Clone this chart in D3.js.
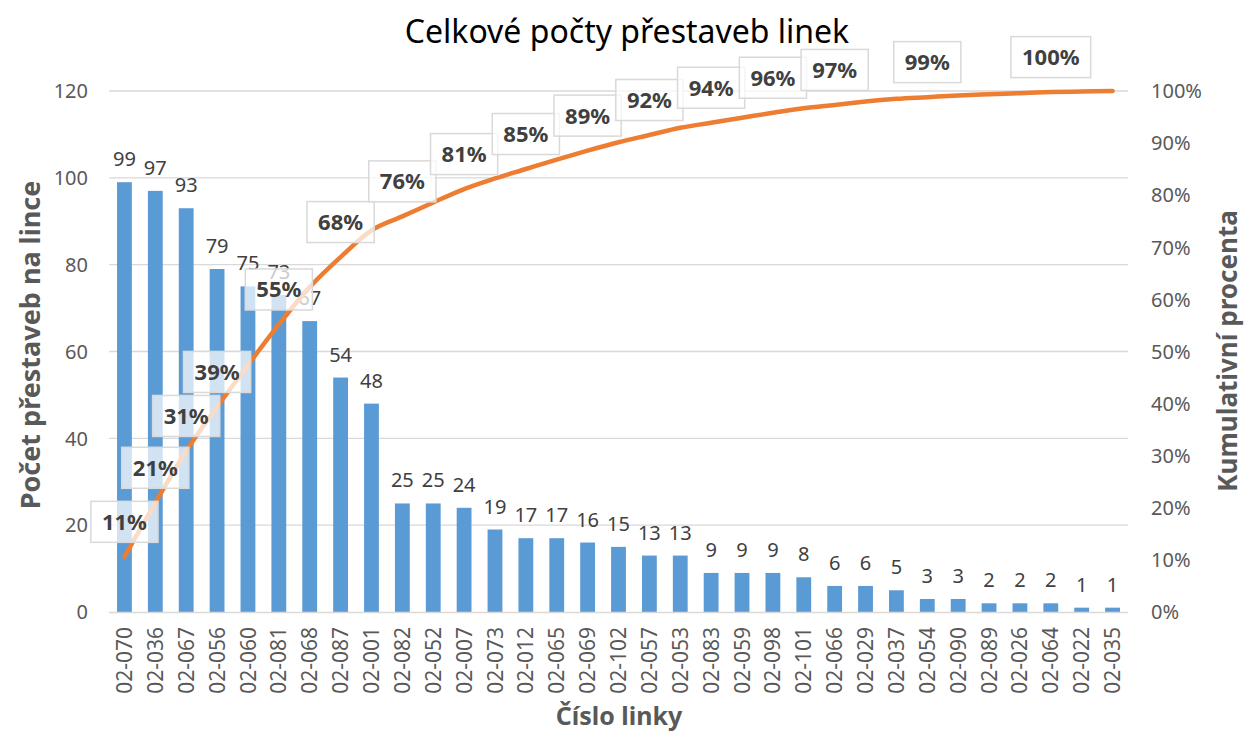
<!DOCTYPE html>
<html>
<head>
<meta charset="utf-8">
<script src="https://cdn.jsdelivr.net/npm/d3@7/dist/d3.min.js"></script>
<style>
  html, body { margin: 0; padding: 0; background: #fff; }
  svg { display: block; }
  text { font-family: "Noto Sans", "Open Sans", sans-serif; }
</style>
</head>
<body>
<svg id="chart" width="1247" height="732"></svg>
<script>
// Line numbers (sorted by count, descending)
const lines = ["02-070","02-036","02-067","02-056","02-060","02-081","02-068","02-087","02-001",
  "02-082","02-052","02-007","02-073","02-012","02-065","02-069","02-102","02-057","02-053",
  "02-083","02-059","02-098","02-101","02-066","02-029","02-037","02-054","02-090","02-089",
  "02-026","02-064","02-022","02-035"];
// Number of rebuilds per line
const counts = [99,97,93,79,75,73,67,54,48,25,25,24,19,17,17,16,15,13,13,9,9,9,8,6,6,5,3,3,2,2,2,1,1];
// Points of the cumulative curve that carry a percentage label
const labelledPoints = [0,1,2,3,5,7,9,11,13,15,17,19,21,23,26,30];
// Axis ticks
const leftTicks = [0,20,40,60,80,100,120];
const rightTicks = [0,0.1,0.2,0.3,0.4,0.5,0.6,0.7,0.8,0.9,1.0];

const title = "Celkové počty přestaveb linek";
const leftTitle = "Počet přestaveb na lince";
const rightTitle = "Kumulativní procenta";
const bottomTitle = "Číslo linky";

const total = d3.sum(counts);
const cumulative = d3.cumsum(counts).map(v => v / total);

const svg = d3.select("#chart");
const m = { left: 109, right: 1128, top: 91, bottom: 612 };

const x = d3.scaleBand().domain(lines).range([m.left, m.right]).paddingInner(0.52).paddingOuter(0.26);
const yL = d3.scaleLinear().domain([0, 120]).range([m.bottom, m.top]);
const yR = d3.scaleLinear().domain([0, 1]).range([m.bottom, m.top]);
const cx = d => x(d) + x.bandwidth() / 2;

// Horizontal gridlines
svg.append("g").selectAll("line").data(leftTicks.filter(t => t > 0)).join("line")
  .attr("x1", m.left).attr("x2", m.right)
  .attr("y1", d => yL(d)).attr("y2", d => yL(d))
  .attr("stroke", "#d9d9d9").attr("stroke-width", 1.3);

// Bars
svg.append("g").selectAll("rect").data(lines).join("rect")
  .attr("x", d => x(d)).attr("width", x.bandwidth())
  .attr("y", (d, i) => yL(counts[i]))
  .attr("height", (d, i) => yL(0) - yL(counts[i]))
  .attr("fill", "#5b9bd5");

// Category axis line
svg.append("line").attr("x1", m.left).attr("x2", m.right)
  .attr("y1", m.bottom + 0.5).attr("y2", m.bottom + 0.5)
  .attr("stroke", "#d9d9d9").attr("stroke-width", 1.5);

// Bar value labels
svg.append("g").selectAll("text").data(lines).join("text")
  .attr("x", d => cx(d)).attr("y", (d, i) => yL(counts[i]) - 16)
  .attr("text-anchor", "middle").attr("font-size", 20).attr("fill", "#404040")
  .text((d, i) => counts[i]);

// Left axis tick labels
svg.append("g").selectAll("text").data(leftTicks).join("text")
  .attr("x", 88).attr("y", d => yL(d)).attr("dy", "0.36em")
  .attr("text-anchor", "end").attr("font-size", 20).attr("fill", "#595959")
  .text(d => d);

// Right axis tick labels
const pct = d3.format(".0%");
svg.append("g").selectAll("text").data(rightTicks).join("text")
  .attr("x", 1151).attr("y", d => yR(d)).attr("dy", "0.36em")
  .attr("text-anchor", "start").attr("font-size", 20).attr("fill", "#595959")
  .text(d => pct(d));

// Category labels, rotated
svg.append("g").selectAll("text").data(lines).join("text")
  .attr("transform", d => `translate(${cx(d)},627) rotate(-90)`)
  .attr("dy", "0.36em").attr("text-anchor", "end")
  .attr("font-size", 21).attr("fill", "#595959")
  .text(d => d);

// Cumulative percentage curve
const line = d3.line()
  .x((d, i) => cx(lines[i]))
  .y(d => yR(d))
  .curve(d3.curveCatmullRom.alpha(0));
svg.append("path").datum(cumulative)
  .attr("d", line).attr("fill", "none")
  .attr("stroke", "#ed7d31").attr("stroke-width", 4.5).attr("stroke-linecap", "round");

// Percentage labels in boxes above the curve
const lg = svg.append("g").selectAll("g").data(labelledPoints).join("g")
  .attr("transform", i => `translate(${cx(lines[i])},${yR(cumulative[i]) - 35})`);
lg.append("rect").attr("class", "box");
lg.append("text")
  .attr("text-anchor", "middle").attr("dy", "0.36em")
  .attr("font-size", 22).attr("font-weight", "bold").attr("fill", "#404040")
  .text(i => pct(cumulative[i]));
lg.each(function() {
  const g = d3.select(this);
  const bb = g.select("text").node().getBBox();
  const w = bb.width + 22, h = 41;
  g.select("rect")
    .attr("x", -w / 2).attr("y", -h / 2).attr("width", w).attr("height", h)
    .attr("fill", "#fff").attr("fill-opacity", 0.72)
    .attr("stroke", "#d9d9d9").attr("stroke-width", 1.5);
});

// Titles
svg.append("text").attr("x", 627).attr("y", 43).attr("text-anchor", "middle")
  .attr("font-size", 32).attr("fill", "#000").text(title);
svg.append("text").attr("transform", "translate(30,345) rotate(-90)")
  .attr("dy", "0.36em").attr("text-anchor", "middle")
  .attr("font-size", 27).attr("font-weight", "bold").attr("fill", "#595959").text(leftTitle);
svg.append("text").attr("transform", "translate(1228,351) rotate(-90)")
  .attr("dy", "0.36em").attr("text-anchor", "middle")
  .attr("font-size", 26).attr("font-weight", "bold").attr("fill", "#595959").text(rightTitle);
svg.append("text").attr("x", 619).attr("y", 725).attr("text-anchor", "middle")
  .attr("font-size", 25).attr("font-weight", "bold").attr("fill", "#595959").text(bottomTitle);
</script>
</body>
</html>
